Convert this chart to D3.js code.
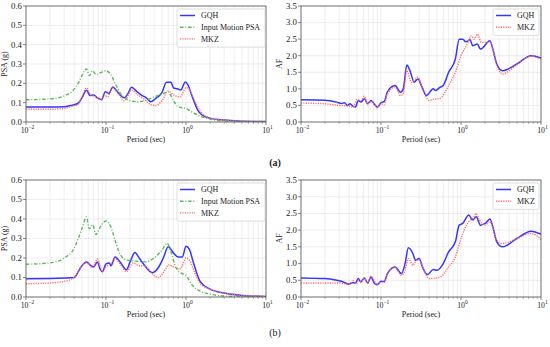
<!DOCTYPE html>
<html>
<head>
<meta charset="utf-8">
<script src="https://d3js.org/d3.v7.min.js"></script>
<style>
  body { margin: 0; background: #fff; }
  svg text { font-family: "Liberation Serif", "Times New Roman", serif; fill: #222; }
  .grid line { stroke: #e3e3e3; stroke-width: 0.6; }
  .frame { fill: none; stroke: #555; stroke-width: 0.8; }
</style>
</head>
<body>
<script>
// ---- data (period in sec, value) ----
var psaA_GQH = [[0.01,0.078],[0.02,0.078],[0.03,0.079],[0.036,0.085],[0.045,0.097],[0.05,0.125],[0.057,0.164],[0.063,0.137],[0.07,0.14],[0.078,0.125],[0.088,0.115],[0.098,0.157],[0.108,0.148],[0.122,0.181],[0.135,0.163],[0.15,0.14],[0.17,0.125],[0.185,0.142],[0.21,0.18],[0.24,0.16],[0.28,0.138],[0.32,0.125],[0.36,0.105],[0.42,0.122],[0.5,0.152],[0.57,0.205],[0.65,0.205],[0.7,0.176],[0.78,0.172],[0.86,0.165],[0.98,0.207],[1.05,0.195],[1.2,0.13],[1.4,0.062],[1.6,0.035],[2,0.02],[3,0.01],[4.5,0.005],[10,0.002]];
var psaA_MKZ = [[0.01,0.066],[0.02,0.066],[0.03,0.07],[0.038,0.082],[0.045,0.092],[0.05,0.13],[0.057,0.176],[0.064,0.142],[0.074,0.13],[0.086,0.115],[0.095,0.14],[0.105,0.13],[0.122,0.175],[0.14,0.15],[0.17,0.11],[0.21,0.165],[0.25,0.14],[0.3,0.118],[0.36,0.09],[0.42,0.085],[0.5,0.11],[0.6,0.16],[0.7,0.14],[0.85,0.13],[1.0,0.178],[1.1,0.168],[1.25,0.12],[1.5,0.058],[2,0.02],[3,0.01],[4.5,0.005],[10,0.002]];
var psaA_Input = [[0.01,0.115],[0.02,0.12],[0.03,0.135],[0.04,0.17],[0.045,0.2],[0.05,0.24],[0.057,0.275],[0.062,0.24],[0.068,0.265],[0.075,0.245],[0.085,0.255],[0.1,0.265],[0.115,0.245],[0.13,0.2],[0.15,0.15],[0.18,0.12],[0.2,0.11],[0.25,0.105],[0.3,0.11],[0.4,0.13],[0.5,0.145],[0.6,0.155],[0.7,0.11],[0.8,0.078],[1.0,0.07],[1.2,0.05],[1.5,0.03],[2,0.015],[3,0.005],[10,0.001]];

var afA_GQH = [[0.01,0.67],[0.02,0.66],[0.028,0.6],[0.032,0.56],[0.035,0.58],[0.038,0.5],[0.041,0.55],[0.045,0.47],[0.048,0.45],[0.052,0.65],[0.056,0.6],[0.062,0.7],[0.068,0.55],[0.075,0.65],[0.082,0.55],[0.09,0.45],[0.1,0.58],[0.11,0.62],[0.12,0.9],[0.15,1.1],[0.175,0.9],[0.19,1.0],[0.21,1.72],[0.23,1.55],[0.26,1.2],[0.29,1.3],[0.32,1.1],[0.37,0.8],[0.45,1.0],[0.48,0.95],[0.55,1.05],[0.6,1.1],[0.7,1.5],[0.85,1.9],[0.95,2.5],[1.05,2.5],[1.15,2.42],[1.3,2.48],[1.4,2.3],[1.6,2.35],[1.75,2.2],[2.3,2.45],[2.5,2.2],[2.8,1.75],[3.3,1.55],[5,1.75],[7.5,2.0],[10,1.93]];
var afA_MKZ = [[0.01,0.57],[0.02,0.55],[0.03,0.5],[0.04,0.48],[0.045,0.45],[0.05,0.68],[0.056,0.65],[0.062,0.78],[0.068,0.55],[0.075,0.62],[0.09,0.43],[0.1,0.55],[0.11,0.52],[0.12,0.85],[0.15,1.05],[0.175,0.8],[0.19,0.85],[0.21,1.55],[0.24,1.2],[0.29,1.35],[0.33,1.0],[0.4,0.65],[0.45,0.68],[0.55,0.72],[0.7,1.1],[0.85,1.5],[1.0,2.0],[1.2,2.35],[1.35,2.6],[1.45,2.5],[1.6,2.65],[1.8,2.4],[2.3,2.42],[2.8,1.7],[3.3,1.45],[5,1.73],[7.5,1.98],[10,1.9]];

var psaB_GQH = [[0.01,0.094],[0.02,0.095],[0.03,0.097],[0.04,0.1],[0.045,0.13],[0.05,0.16],[0.057,0.18],[0.065,0.16],[0.07,0.155],[0.078,0.18],[0.085,0.14],[0.09,0.13],[0.1,0.17],[0.11,0.175],[0.115,0.16],[0.13,0.205],[0.15,0.18],[0.18,0.14],[0.2,0.18],[0.23,0.228],[0.26,0.2],[0.3,0.165],[0.38,0.125],[0.45,0.15],[0.52,0.2],[0.6,0.258],[0.7,0.225],[0.8,0.205],[0.9,0.205],[1.0,0.26],[1.1,0.245],[1.25,0.17],[1.5,0.08],[2,0.04],[3,0.02],[5,0.008],[10,0.003]];
var psaB_MKZ = [[0.01,0.068],[0.02,0.072],[0.03,0.08],[0.04,0.1],[0.05,0.16],[0.057,0.175],[0.068,0.15],[0.078,0.195],[0.09,0.13],[0.1,0.155],[0.115,0.17],[0.13,0.195],[0.15,0.17],[0.18,0.13],[0.22,0.175],[0.26,0.16],[0.3,0.16],[0.4,0.11],[0.45,0.1],[0.55,0.14],[0.6,0.165],[0.7,0.155],[0.85,0.145],[1.0,0.2],[1.1,0.19],[1.3,0.12],[1.5,0.07],[2,0.04],[3,0.02],[5,0.008],[10,0.003]];
var psaB_Input = [[0.01,0.168],[0.02,0.175],[0.03,0.2],[0.04,0.25],[0.045,0.3],[0.05,0.35],[0.057,0.41],[0.062,0.35],[0.068,0.37],[0.075,0.32],[0.085,0.36],[0.1,0.39],[0.115,0.36],[0.13,0.29],[0.15,0.22],[0.18,0.19],[0.22,0.185],[0.3,0.18],[0.4,0.2],[0.5,0.24],[0.58,0.275],[0.65,0.23],[0.75,0.15],[0.9,0.12],[1.0,0.11],[1.2,0.06],[1.5,0.03],[2,0.015],[3,0.005],[10,0.001]];

var afB_GQH = [[0.01,0.57],[0.02,0.55],[0.028,0.5],[0.032,0.47],[0.036,0.42],[0.04,0.38],[0.043,0.43],[0.048,0.42],[0.052,0.55],[0.056,0.45],[0.062,0.57],[0.068,0.42],[0.075,0.6],[0.082,0.42],[0.09,0.37],[0.1,0.47],[0.11,0.46],[0.12,0.7],[0.15,0.9],[0.18,0.7],[0.2,1.0],[0.22,1.47],[0.25,1.3],[0.27,1.1],[0.3,1.15],[0.33,0.9],[0.38,0.67],[0.45,0.82],[0.5,0.8],[0.6,1.0],[0.7,1.35],[0.85,1.65],[0.95,2.15],[1.05,2.2],[1.25,2.45],[1.4,2.3],[1.55,2.4],[1.75,2.15],[2.0,2.2],[2.3,2.33],[2.5,2.1],[2.8,1.65],[3.3,1.5],[5,1.75],[7.5,1.97],[10,1.88]];
var afB_MKZ = [[0.01,0.42],[0.03,0.42],[0.04,0.38],[0.045,0.48],[0.05,0.4],[0.052,0.52],[0.056,0.45],[0.062,0.55],[0.068,0.4],[0.075,0.62],[0.09,0.37],[0.1,0.45],[0.11,0.44],[0.12,0.68],[0.15,0.88],[0.18,0.65],[0.2,0.8],[0.22,1.15],[0.25,0.95],[0.28,1.1],[0.3,1.1],[0.35,0.75],[0.4,0.55],[0.55,0.6],[0.7,0.9],[0.85,1.2],[1.0,1.75],[1.2,2.2],[1.45,2.4],[1.55,2.5],[1.7,2.3],[2.0,2.15],[2.3,2.25],[2.8,1.7],[3.3,1.6],[5,1.75],[7.5,1.9],[10,1.72]];

var psaTicks = [0, 0.1, 0.2, 0.3, 0.4, 0.5, 0.6];
var afTicks = [0, 0.5, 1.0, 1.5, 2.0, 2.5, 3.0, 3.5];
var periodTicks = [0.01, 0.1, 1, 10];

var styles = {
  GQH:   { color: "#3535ff", dash: null, width: 1.5 },
  Input: { color: "#5cb85c", dash: "3.5,1.8,1,1.8", width: 1.4 },
  MKZ:   { color: "#ff6b6b", dash: "1.2,1.2", width: 1.4 }
};

var panels = [
  { x: 26, y: 6, w: 240, h: 116, ylab: "PSA (g)", ymax: 0.6, ticks: psaTicks, fmt: d3.format(".1f"),
    series: [["GQH", psaA_GQH], ["Input", psaA_Input], ["MKZ", psaA_MKZ]],
    legend: [["GQH", "GQH"], ["Input", "Input Motion PSA"], ["MKZ", "MKZ"]], lx: 177, lw: 88 },
  { x: 301, y: 6, w: 240, h: 116, ylab: "AF", ymax: 3.5, ticks: afTicks, fmt: d3.format(".1f"),
    series: [["GQH", afA_GQH], ["MKZ", afA_MKZ]],
    legend: [["GQH", "GQH"], ["MKZ", "MKZ"]], lx: 493, lw: 46 },
  { x: 26, y: 180, w: 240, h: 117, ylab: "PSA (g)", ymax: 0.6, ticks: psaTicks, fmt: d3.format(".1f"),
    series: [["GQH", psaB_GQH], ["Input", psaB_Input], ["MKZ", psaB_MKZ]],
    legend: [["GQH", "GQH"], ["Input", "Input Motion PSA"], ["MKZ", "MKZ"]], lx: 177, lw: 88 },
  { x: 301, y: 180, w: 240, h: 117, ylab: "AF", ymax: 3.5, ticks: afTicks, fmt: d3.format(".1f"),
    series: [["GQH", afB_GQH], ["MKZ", afB_MKZ]],
    legend: [["GQH", "GQH"], ["MKZ", "MKZ"]], lx: 493, lw: 46 }
];

var svg = d3.select("body").append("svg")
    .attr("width", 550)
    .attr("height", 347);

var minorTicks = [];
[0.01, 0.1, 1].forEach(function(d) {
  for (var k = 2; k <= 9; k++) minorTicks.push(d * k);
});

panels.forEach(function(p, i) {
  var g = svg.append("g").attr("transform", "translate(" + p.x + "," + p.y + ")");

  var x = d3.scaleLog().domain([0.01, 10]).range([0, p.w]);
  var y = d3.scaleLinear().domain([0, p.ymax]).range([p.h, 0]);

  // grid
  var grid = g.append("g").attr("class", "grid");
  grid.selectAll(".gx").data(minorTicks.concat(periodTicks)).enter().append("line")
      .attr("x1", function(d) { return x(d); }).attr("x2", function(d) { return x(d); })
      .attr("y1", 0).attr("y2", p.h);
  grid.selectAll(".gy").data(p.ticks).enter().append("line")
      .attr("x1", 0).attr("x2", p.w)
      .attr("y1", function(d) { return y(d); }).attr("y2", function(d) { return y(d); });

  // lines
  var line = d3.line()
      .x(function(d) { return x(d[0]); })
      .y(function(d) { return y(d[1]); })
      .curve(d3.curveMonotoneX);

  g.append("defs").append("clipPath").attr("id", "clip" + i)
    .append("rect").attr("width", p.w).attr("height", p.h);

  p.series.forEach(function(s) {
    var st = styles[s[0]];
    g.append("path")
        .datum(s[1])
        .attr("clip-path", "url(#clip" + i + ")")
        .attr("d", line)
        .attr("fill", "none")
        .attr("stroke", st.color)
        .attr("stroke-width", st.width)
        .attr("stroke-dasharray", st.dash);
  });

  g.append("rect").attr("class", "frame").attr("width", p.w).attr("height", p.h);

  // y axis
  var ya = g.append("g");
  ya.selectAll("line").data(p.ticks).enter().append("line")
      .attr("x1", -3).attr("x2", 0)
      .attr("y1", function(d) { return y(d); }).attr("y2", function(d) { return y(d); })
      .attr("stroke", "#555").attr("stroke-width", 0.7);
  ya.selectAll("text").data(p.ticks).enter().append("text")
      .attr("x", -4).attr("y", function(d) { return y(d); })
      .attr("dy", "0.33em").attr("text-anchor", "end")
      .attr("font-size", 8.8)
      .text(p.fmt);

  // x axis
  var xa = g.append("g").attr("transform", "translate(0," + p.h + ")");
  xa.selectAll(".mt").data(minorTicks).enter().append("line")
      .attr("x1", function(d) { return x(d); }).attr("x2", function(d) { return x(d); })
      .attr("y1", 0).attr("y2", 1.8).attr("stroke", "#555").attr("stroke-width", 0.5);
  xa.selectAll(".Mt").data(periodTicks).enter().append("line")
      .attr("x1", function(d) { return x(d); }).attr("x2", function(d) { return x(d); })
      .attr("y1", 0).attr("y2", 3).attr("stroke", "#555").attr("stroke-width", 0.7);
  var lbl = xa.selectAll(".tl").data(periodTicks).enter().append("text")
      .attr("x", function(d) { return x(d) + 1.5; }).attr("y", 10.5)
      .attr("text-anchor", "middle").attr("font-size", 7.8);
  lbl.append("tspan").text("10");
  lbl.append("tspan").attr("dy", -3.5).attr("font-size", 5.5)
      .text(function(d) { var e = Math.round(Math.log10(d)); return e < 0 ? "\u2212" + (-e) : e; });

  g.append("text")
      .attr("x", p.w / 2).attr("y", p.h + 20)
      .attr("text-anchor", "middle").attr("font-size", 8)
      .text("Period (sec)");

  g.append("text")
      .attr("transform", "translate(-19," + (p.h / 2) + ") rotate(-90)")
      .attr("text-anchor", "middle").attr("font-size", 8)
      .text(p.ylab);

  // legend
  var lg = g.append("g").attr("transform", "translate(" + (p.lx - p.x) + ",3)");
  lg.append("rect")
      .attr("width", p.lw).attr("height", p.legend.length * 11.7 + 3)
      .attr("rx", 1.5)
      .attr("fill", "#fff").attr("fill-opacity", 0.85)
      .attr("stroke", "#d0d0d0").attr("stroke-width", 0.7);
  p.legend.forEach(function(e, j) {
    var st = styles[e[0]];
    var ly = 6.5 + j * 11.7;
    lg.append("line")
        .attr("x1", 3).attr("x2", 18).attr("y1", ly).attr("y2", ly)
        .attr("stroke", st.color).attr("stroke-width", st.width)
        .attr("stroke-dasharray", st.dash);
    lg.append("text")
        .attr("x", 24).attr("y", ly).attr("dy", "0.33em")
        .attr("font-size", 8)
        .text(e[1]);
  });
});

svg.append("text").attr("x", 275).attr("y", 166)
    .attr("text-anchor", "middle").attr("font-size", 10).attr("font-weight", "bold")
    .text("(a)");
svg.append("text").attr("x", 275).attr("y", 336)
    .attr("text-anchor", "middle").attr("font-size", 10)
    .text("(b)");
</script>
</body>
</html>
